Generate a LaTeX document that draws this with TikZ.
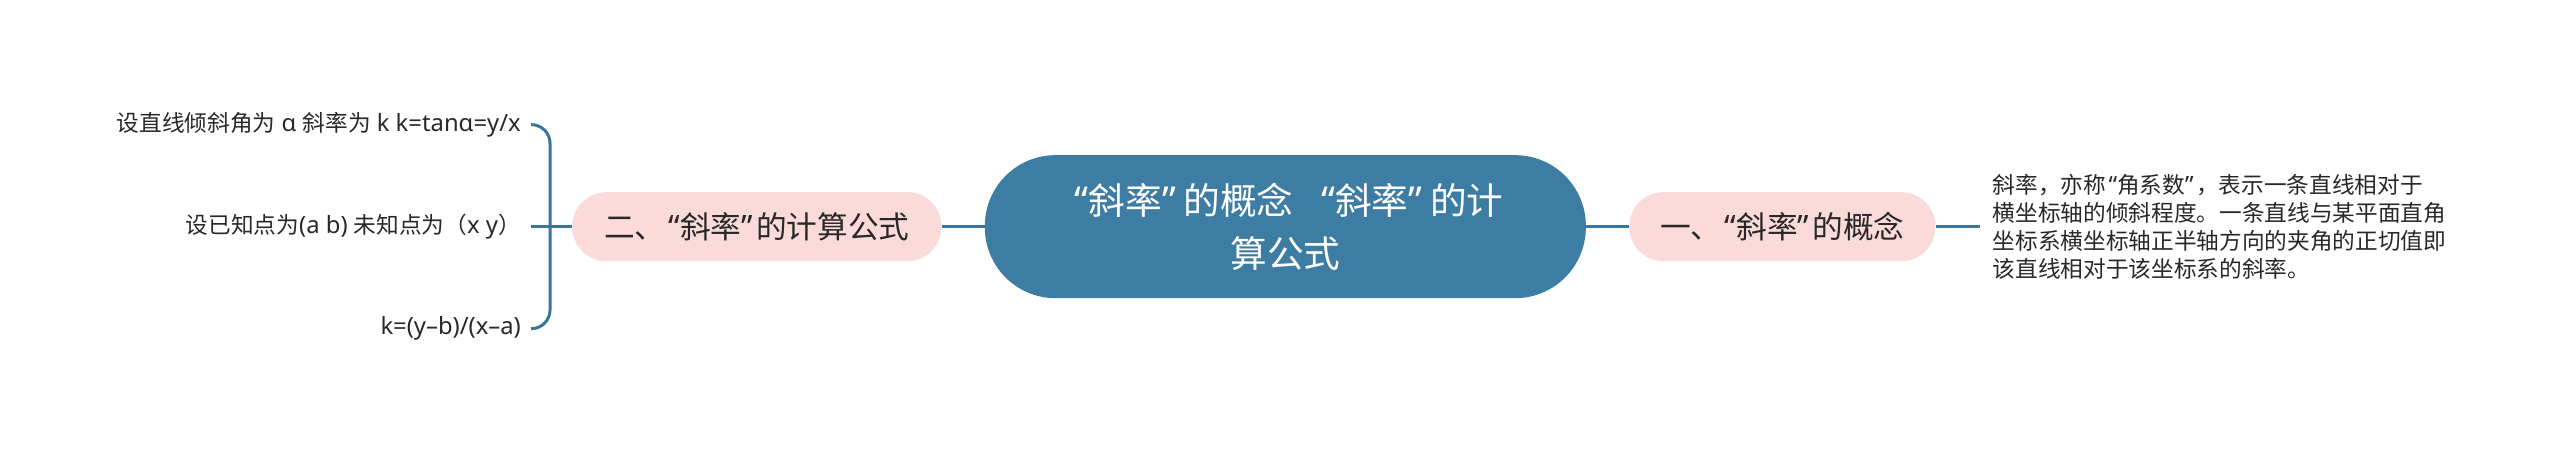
\documentclass[tikz,border=0pt]{standalone}
\usepackage{fontspec}
\setmainfont{Noto Sans CJK SC}
\newfontfamily\latinfont[Scale=1.05]{Noto Sans}
\newcommand\lat[1]{{\latinfont #1}}
\newcommand\oq{{\latinfont\kern0.1em“}}
\newcommand\cq{{\latinfont”\kern0.1em}}
\newcommand\bigoq{{\latinfont\kern0.2em“}}
\newcommand\bigcq{{\latinfont”\kern0.2em}}
\usepackage{tikz}
\usetikzlibrary{positioning}
\definecolor{mapblue}{RGB}{62,125,163}
\definecolor{linkblue}{RGB}{58,117,155}
\definecolor{topicpink}{RGB}{251,218,218}
\definecolor{inkgray}{RGB}{40,40,40}

\begin{document}
\begin{tikzpicture}[
    root/.style={fill=mapblue, text=white, rounded corners=53pt, inner sep=0pt,
      minimum width=450.75pt, minimum height=107.25pt, align=center,
      font=\fontsize{27.5}{39.75}\selectfont},
    topic/.style={fill=topicpink, text=inkgray, rounded corners=25.5pt,
      minimum height=51.75pt, font=\fontsize{23}{27}\selectfont},
    leaf/.style={text=inkgray, inner xsep=7.5pt, font=\fontsize{17}{21}\selectfont},
    note/.style={text=inkgray, inner xsep=9.75pt, align=left,
      font=\fontsize{17}{21}\selectfont},
    link/.style={draw=linkblue, line width=2.25pt}
  ]
  \useasboundingbox (0,0) rectangle (1920pt,-339.75pt);

  \node[root] (R) at (964pt,-170pt) {\bigoq 斜率\bigcq 的概念\hspace{0.55em}\bigoq 斜率\bigcq 的计\\算公式};
  \node[topic, right=32.25pt of R, minimum width=229.5pt] (concept) {一、\oq 斜率\cq 的概念};
  \node[topic, left=32.25pt of R, minimum width=276.75pt] (formula) {二、\oq 斜率\cq 的计算公式};
  \node[note, right=33pt of concept] (def) {斜率，亦称\oq 角系数\cq ，表示一条直线相对于\\横坐标轴的倾斜程度。一条直线与某平面直角\\坐标系横坐标轴正半轴方向的夹角的正切值即\\该直线相对于该坐标系的斜率。};
  \coordinate[left=16.5pt of formula] (fork);
  \node[leaf, left=14.25pt of fork] (k2) {设已知点为\lat{(a b) }未知点为（\lat{x y}）};
  \node[leaf, left=14.25pt of fork, yshift=76.5pt] (k1) {设直线倾斜角为\lat{ α }斜率为\lat{ k k=tanα=y/x}};
  \node[leaf, left=14.25pt of fork, yshift=-76.5pt] (k3) {\lat{k=(y–b)/(x–a)}};

  % Connect the nodes
  \draw[link] (R) -- (concept);
  \draw[link] (R) -- (formula);
  \draw[link] (concept) -- (def);
  \draw[link] (formula) -- (k2);
  \draw[link, rounded corners=14pt] (fork) |- (k1);
  \draw[link, rounded corners=14pt] (fork) |- (k3);
\end{tikzpicture}
\end{document}
